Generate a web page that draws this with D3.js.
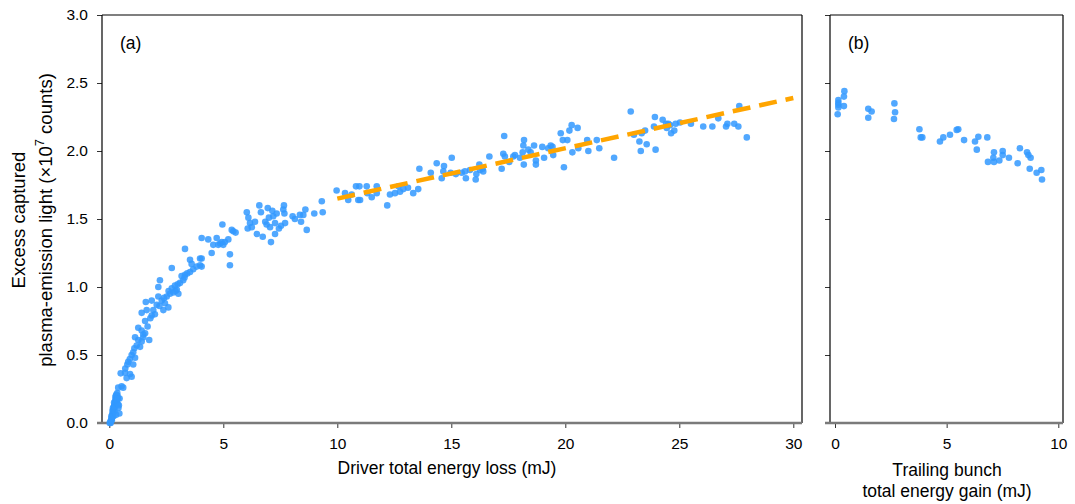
<!DOCTYPE html>
<html>
<head>
<meta charset="utf-8">
<script src="https://cdn.jsdelivr.net/npm/d3@7"></script>
<style>
  body { margin: 0; background: #fff; }
  text { font-family: "Liberation Sans", Arial, sans-serif; fill: #000; }
</style>
</head>
<body>
<script>
// panel (a): driver total energy loss (mJ) vs excess light (x1e7 counts)
var lossA = [0.02,0.05,0.08,0.1,0.12,0.06,0.09,0.13,0.15,0.11,0.14,0.17,0.16,0.19,0.2,0.18,0.22,0.21,0.24,0.23,0.26,0.25,0.28,0.3,0.27,0.32,0.29,0.34,0.31,0.33,0.36,0.35,0.38,0.3,0.37,0.4,
  0.44,0.45,0.42,
  0.39,0.54,0.61,0.5,0.69,0.91,0.76,0.98,0.79,0.83,1.05,1.13,0.98,1.05,
  1.2,1.35,1.42,1.27,1.49,1.57,1.42,1.13,1.75,1.27,1.49,
  1.68,1.57,1.42,1.64,1.86,2.0,1.93,2.08,1.6,1.86,
  2.15,2.3,2.44,2.37,2.59,2.52,2.66,2.81,2.74,2.88,2.96,3.03,3.1,3.24,3.17,3.32,3.42,3.54,3.68,3.61,3.83,3.98,3.54,3.98,2.74,2.22,2.15,3.32,
  2.4,2.6,2.9,3.0,3.3,2.2,1.8,1.1,0.9,0.7,
  4.05,4.34,4.56,4.71,4.86,5.07,5.22,4.49,5.29,5.29,4.78,4.93,5.0,5.37,5.44,5.54,4.96,4.05,4.05,
  6.03,6.1,6.17,6.07,6.25,6.39,6.47,6.58,6.65,6.73,6.84,6.9,6.95,7.0,7.05,7.09,7.15,7.19,7.27,7.27,7.34,7.44,7.53,7.63,7.66,7.68,7.71,8.04,8.14,8.36,8.41,8.51,8.6,8.66,8.99,9.32,9.36,9.97,
  10.34,10.48,10.63,10.82,10.92,11.0,10.97,11.29,11.32,11.51,11.73,11.73,12.19,12.31,12.53,12.68,12.75,13.33,13.55,13.6,14.36,14.58,14.65,14.68,15.02,14.97,15.46,15.6,15.64,15.82,16.07,16.23,16.26,16.37,16.4,16.67,
  12.9,13.1,14.1,15.2,16.1,
  17.28,17.32,17.35,17.21,17.54,17.72,17.79,18.01,18.13,18.16,18.19,18.18,18.38,18.48,18.63,18.71,18.71,18.99,19.07,19.25,19.36,19.44,19.47,19.8,19.89,19.94,20.09,20.18,20.28,20.31,20.54,20.57,20.96,21.01,21.38,21.49,22.14,22.87,23.01,23.25,23.31,23.35,23.5,23.57,23.89,23.93,23.96,
  24.27,24.42,24.45,24.52,24.59,24.64,24.78,24.84,25.03,25.51,26.05,26.45,26.71,27.05,27.11,27.41,27.59,27.63,27.96];
var lightA = [0.0,0.01,0.02,0.03,0.04,0.0,0.05,0.06,0.07,0.02,0.09,0.08,0.11,0.1,0.12,0.05,0.13,0.15,0.14,0.09,0.16,0.12,0.17,0.18,0.19,0.15,0.2,0.19,0.21,0.17,0.2,0.22,0.18,0.06,0.14,0.11,
  0.07,0.18,0.13,
  0.26,0.27,0.26,0.365,0.37,0.36,0.33,0.34,0.43,0.45,0.43,0.48,0.5,0.52,
  0.57,0.56,0.6,0.61,0.63,0.66,0.68,0.63,0.61,0.7,0.65,
  0.71,0.75,0.81,0.83,0.79,0.8,0.83,0.87,0.89,0.9,
  0.93,0.9,0.88,0.83,0.85,0.93,0.95,0.96,0.99,1.01,0.98,0.95,1.03,1.05,1.08,1.09,1.1,1.11,1.13,1.17,1.15,1.16,1.2,1.21,1.14,1.05,1.0,1.28,
  0.92,0.97,0.97,1.02,1.07,0.86,0.77,0.55,0.47,0.4,
  1.36,1.35,1.31,1.36,1.32,1.33,1.35,1.25,1.24,1.16,1.31,1.33,1.31,1.42,1.41,1.4,1.46,1.21,1.15,
  1.55,1.51,1.47,1.43,1.44,1.48,1.39,1.6,1.55,1.37,1.48,1.46,1.58,1.51,1.44,1.33,1.56,1.52,1.47,1.39,1.54,1.43,1.45,1.57,1.6,1.54,1.47,1.52,1.5,1.53,1.48,1.53,1.57,1.42,1.54,1.63,1.55,1.71,
  1.69,1.64,1.68,1.74,1.64,1.64,1.74,1.74,1.69,1.66,1.74,1.69,1.6,1.68,1.69,1.74,1.7,1.69,1.72,1.87,1.91,1.8,1.85,1.89,1.95,1.84,1.84,1.85,1.8,1.86,1.79,1.9,1.86,1.87,1.85,1.96,
  1.72,1.73,1.84,1.83,1.83,
  1.98,2.11,1.96,1.87,1.92,1.96,1.97,1.95,1.99,2.04,2.08,1.9,2.01,1.99,2.04,1.93,1.9,2.03,1.95,2.02,2.04,2.03,1.97,2.13,2.08,1.88,2.08,2.15,2.19,1.99,2.17,2.02,2.08,2.0,2.08,2.02,1.95,2.29,2.12,2.07,2.0,2.13,2.15,2.05,2.18,2.25,2.01,
  2.23,2.2,2.17,2.2,2.19,2.13,2.15,2.2,2.21,2.2,2.18,2.18,2.24,2.18,2.2,2.2,2.18,2.33,2.1];

// linear fit drawn over the high-loss part of (a)
var fitX = [10, 30];
var fitY = [1.65, 2.39];

// panel (b): trailing bunch total energy gain (mJ)
var gainB = [0.15,0.15,0.15,0.15,0.12,0.42,0.4,0.4,1.49,1.64,1.49,2.66,2.69,2.64,3.78,3.84,3.91,4.7,4.85,5.15,5.45,5.52,5.78,6.27,6.35,6.42,6.82,6.85,7.12,7.09,7.12,7.36,7.51,7.51,7.79,8.18,8.28,8.6,8.66,8.76,8.72,9.03,9.24,9.27];
var lightB = [2.375,2.355,2.34,2.32,2.27,2.44,2.4,2.33,2.31,2.29,2.245,2.35,2.285,2.235,2.16,2.1,2.1,2.07,2.1,2.12,2.155,2.16,2.08,2.07,2.01,2.105,2.1,1.92,1.99,1.95,1.92,1.93,2.0,1.97,1.95,1.91,2.02,1.99,1.97,1.95,1.87,1.84,1.86,1.79];

var ticksA = [0, 5, 10, 15, 20, 25, 30];
var ticksB = [0, 5, 10];
var ticksY = [0, 0.5, 1, 1.5, 2, 2.5, 3];

var svg = d3.select("body").append("svg")
    .attr("width", 1075)
    .attr("height", 504);

var plotTop = 15, plotBottom = 423;
var y = d3.scaleLinear().domain([0, 3]).range([plotBottom, plotTop]);

var panels = [
  { left: 102, right: 802, x: d3.scaleLinear().domain([0, 30]).range([109.3, 793.3]),
    xs: lossA, ys: lightA, ticks: ticksA, tag: "(a)", labels: true },
  { left: 830, right: 1063, x: d3.scaleLinear().domain([0, 10]).range([835, 1058.3]),
    xs: gainB, ys: lightB, ticks: ticksB, tag: "(b)", labels: false }
];

panels.forEach(function(p) {
  var g = svg.append("g");

  // y axis
  var yAxis = g.append("g")
      .attr("transform", "translate(" + p.left + ",0)")
      .call(d3.axisLeft(y).tickValues(ticksY).tickSize(5).tickPadding(9)
        .tickFormat(p.labels ? d3.format(".1f") : ""));
  yAxis.select(".domain").remove();
  yAxis.selectAll("line").attr("stroke", "#333");
  yAxis.selectAll("text").attr("font-size", 15.5).style("font-family", "Liberation Sans, Arial, sans-serif");

  // x axis
  var xAxis = g.append("g")
      .attr("transform", "translate(0," + plotBottom + ")")
      .call(d3.axisBottom(p.x).tickValues(p.ticks).tickSize(5).tickPadding(10));
  xAxis.select(".domain").remove();
  xAxis.selectAll("line").attr("stroke", "#333");
  xAxis.selectAll("text").attr("font-size", 15.5).style("font-family", "Liberation Sans, Arial, sans-serif");

  // frame
  g.append("line").attr("x1", p.left).attr("x2", p.left).attr("y1", plotTop).attr("y2", plotBottom)
    .attr("stroke", "#000").attr("stroke-width", 1.2);
  g.append("line").attr("x1", p.right).attr("x2", p.right).attr("y1", plotTop).attr("y2", plotBottom)
    .attr("stroke", "#000").attr("stroke-width", 1.2);
  g.append("line").attr("x1", p.left).attr("x2", p.right).attr("y1", plotTop).attr("y2", plotTop)
    .attr("stroke", "#000").attr("stroke-width", 1.2);
  g.append("line").attr("x1", p.left - 5).attr("x2", p.right).attr("y1", plotBottom).attr("y2", plotBottom)
    .attr("stroke", "#7a7a7a").attr("stroke-width", 2.5);

  // points
  g.selectAll("circle")
    .data(p.xs.map(function(v, i) { return [v, p.ys[i]]; }))
    .enter().append("circle")
      .attr("cx", function(d) { return p.x(d[0]); })
      .attr("cy", function(d) { return y(d[1]); })
      .attr("r", 3.3)
      .attr("fill", "#3399ff")
      .attr("fill-opacity", 0.85);

  g.append("text")
    .attr("x", p.left + 18).attr("y", 49)
    .attr("font-size", 17.5)
    .text(p.tag);

  p.g = g;
});

// fit line in (a)
var pa = panels[0];
pa.g.append("path")
  .datum(fitX.map(function(v, i) { return [v, fitY[i]]; }))
  .attr("d", d3.line().x(function(d) { return pa.x(d[0]); }).y(function(d) { return y(d[1]); }))
  .attr("fill", "none")
  .attr("stroke", "#ffa500")
  .attr("stroke-width", 4.5)
  .attr("stroke-dasharray", "18,9");

// axis titles
svg.append("text")
  .attr("x", 447).attr("y", 474)
  .attr("text-anchor", "middle").attr("font-size", 17.5)
  .text("Driver total energy loss (mJ)");

svg.append("text")
  .attr("x", 947).attr("y", 476)
  .attr("text-anchor", "middle").attr("font-size", 17.5)
  .text("Trailing bunch");
svg.append("text")
  .attr("x", 947).attr("y", 497)
  .attr("text-anchor", "middle").attr("font-size", 17.5)
  .text("total energy gain (mJ)");

var yt = svg.append("text")
  .attr("transform", "translate(25,220) rotate(-90)")
  .attr("text-anchor", "middle").attr("font-size", 18.5);
yt.append("tspan").attr("x", 0).attr("y", 0).text("Excess captured");

var yt2 = svg.append("text")
  .attr("transform", "translate(52,220) rotate(-90)")
  .attr("text-anchor", "middle").attr("font-size", 18.5);
yt2.append("tspan").text("plasma-emission light (\u00d710");
yt2.append("tspan").attr("dy", -8).attr("font-size", 13).text("7");
yt2.append("tspan").attr("dy", 8).text(" counts)");
</script>
</body>
</html>
